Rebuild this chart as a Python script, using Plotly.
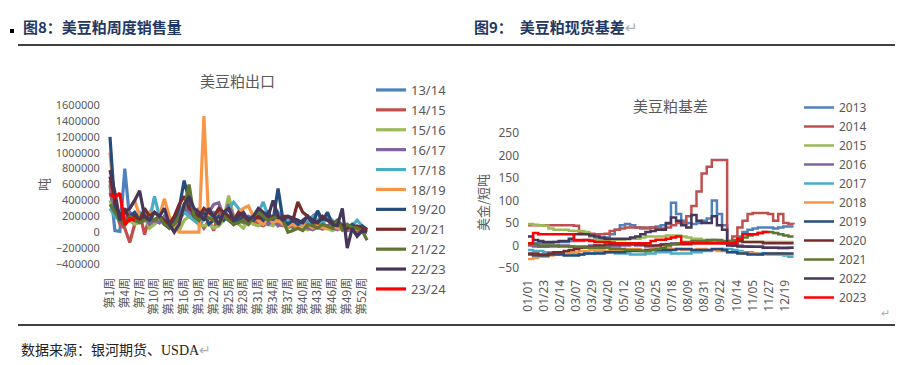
import plotly.graph_objects as go

W, H = 916, 365
OFF = 8  # default page body margin of the written HTML

# ---------------- Left chart data: weekly export sales (tonnes) ----------------
weeks = list(range(1, 54))
week_ticks = list(range(1, 53, 3))
week_labels = [f"第{w}周" for w in week_ticks]

seasons = ["13/14", "14/15", "15/16", "16/17", "17/18", "18/19",
           "19/20", "20/21", "21/22", "22/23", "23/24"]

s1314 = [600000, 20000, 10000, 800000, 150000, 100000, 200000, 150000, 180000, 120000,
         200000, 150000, 100000, 80000, 200000, 350000, 300000, 200000, 150000, 250000,
         200000, 180000, 250000, 220000, 200000, 180000, 150000, 200000, 180000, 160000,
         200000, 150000, 120000, 180000, 250000, 150000, 100000, 120000, 150000, 100000,
         130000, 200000, 250000, 100000, 80000, 120000, 100000, 60000, 50000, 80000,
         30000, 50000, 20000]
s1415 = [650000, 300000, 100000, 50000, -130000, 100000, 250000, -30000, 200000, 150000,
         120000, 200000, 150000, 100000, 150000, 250000, 300000, 200000, 150000, 50000,
         150000, 20000, 250000, 200000, 150000, 100000, 180000, 120000, 100000, 150000,
         100000, 80000, 120000, 150000, 100000, 80000, 120000, 60000, 80000, 100000,
         50000, 80000, 120000, 60000, 80000, 50000, 100000, 30000, 20000, 40000,
         0, 30000, 10000]
s1516 = [400000, 200000, 150000, 250000, 150000, 100000, 120000, 200000, 50000, 100000,
         150000, 100000, 80000, 60000, 20000, 150000, 200000, 150000, 100000, 80000,
         100000, 50000, 80000, 150000, 460000, 200000, 100000, 50000, 150000, 100000,
         80000, 120000, 100000, 80000, 150000, 100000, 50000, 80000, 100000, 50000,
         30000, 80000, 60000, 40000, 50000, 20000, 50000, 30000, 60000, 20000,
         40000, 30000, 10000]
s1617 = [500000, 300000, 200000, 150000, 250000, 200000, 150000, 180000, 100000, 150000,
         120000, 200000, 150000, 100000, 200000, 300000, 250000, 200000, 300000, 150000,
         250000, 350000, 370000, 200000, 350000, 200000, 150000, 120000, 200000, 180000,
         150000, 200000, 100000, 150000, 80000, 120000, 100000, 60000, 80000, 100000,
         50000, 30000, 60000, 40000, 80000, 50000, 30000, 60000, 20000, 40000,
         -50000, 20000, 0]
s1718 = [300000, 200000, 150000, 100000, 200000, 150000, 250000, 200000, 150000, 450000,
         200000, 150000, 100000, 150000, 200000, 250000, 200000, 150000, 100000, 150000,
         200000, 250000, 200000, 150000, 300000, 380000, 300000, 200000, 150000, 200000,
         250000, 380000, 200000, 150000, 200000, 180000, 150000, 120000, 150000, 100000,
         130000, 200000, 150000, 100000, 200000, 150000, 50000, 100000, 50000, 80000,
         150000, 80000, 30000]
s1819 = [1000000, 300000, 200000, 250000, 300000, 400000, 200000, 150000, 250000, 150000,
         200000, 420000, 200000, 100000, 0, 0, 0, 0, 0, 1460000,
         100000, 200000, 150000, 180000, 200000, 150000, 250000, 300000, 330000, 200000,
         150000, 100000, 180000, 120000, 150000, 100000, 80000, 100000, 50000, 80000,
         100000, 50000, 80000, 60000, 40000, 80000, 50000, 30000, 60000, 20000,
         50000, 20000, 10000]
s1920 = [1200000, 300000, 150000, 100000, 200000, 250000, 150000, 200000, 180000, 150000,
         200000, 100000, 50000, 150000, 300000, 650000, 400000, 200000, 150000, 250000,
         100000, 150000, 200000, 150000, 200000, 100000, 150000, 200000, 180000, 150000,
         200000, 150000, 250000, 150000, 550000, 150000, 100000, 150000, 100000, 150000,
         200000, 100000, 270000, 150000, 250000, 100000, 150000, 80000, 50000, 100000,
         50000, 80000, 30000]
s2021 = [700000, 400000, 200000, 300000, 150000, 200000, 150000, 300000, 200000, 250000,
         200000, 150000, 100000, 200000, 350000, 450000, 300000, 250000, 200000, 300000,
         250000, 200000, 300000, 250000, 200000, 150000, 250000, 200000, 150000, 200000,
         180000, 200000, 150000, 200000, 180000, 200000, 200000, 150000, 380000, 250000,
         200000, 150000, 120000, 200000, 150000, 130000, 100000, 80000, 50000, 60000,
         80000, 50000, 40000]
s2122 = [350000, 250000, 150000, 100000, 200000, 150000, 120000, 150000, 180000, 150000,
         200000, 100000, 50000, 100000, 200000, 300000, 600000, 200000, 150000, 200000,
         180000, 150000, 100000, 200000, 150000, 100000, 120000, 150000, 100000, 200000,
         250000, 200000, 150000, 180000, 200000, 150000, 0, 20000, 50000, 20000,
         100000, 80000, 50000, 100000, 80000, 50000, 150000, 30000, 100000, 60000,
         50000, 20000, -100000]
s2223 = [780000, 500000, 150000, 250000, 300000, 400000, 520000, 200000, 150000, 250000,
         200000, 300000, 100000, 0, 100000, 350000, 450000, 300000, 250000, 150000,
         300000, 200000, 100000, 250000, 300000, 150000, 200000, 250000, 150000, 200000,
         300000, 250000, 200000, 400000, 200000, 150000, 200000, 180000, 150000, 120000,
         200000, 150000, 120000, 180000, 150000, 100000, 80000, 300000, -200000, 50000,
         -50000, 20000, 0]
s2324 = [480000, 440000, 490000, 90000, 170000, 150000]

season_values = [s1314, s1415, s1516, s1617, s1718, s1819, s1920, s2021, s2122, s2223, s2324]

# ---------------- Right chart data: spot basis (USD / short ton) ----------------
day_of_year = list(range(0, 365, 7))          # weekly sampling points
date_tick_days = list(range(0, 353, 22))
date_tick_labels = ["01/01", "01/23", "02/14", "03/07", "03/29", "04/20", "05/12", "06/03",
                    "06/25", "07/18", "08/09", "08/31", "09/22", "10/14", "11/05", "11/27", "12/19"]

years = ["2013", "2014", "2015", "2016", "2017", "2018", "2019", "2020", "2021", "2022", "2023"]

b2013 = [5, 5, 5, 5, 5, 8, 8, 8, 10, 10, 10, 12, 12, 15, 15, 18, 25, 35, 45, 48,
         45, 40, 38, 38, 40, 42, 45, 48, 95, 70, 55, 50, 48, 50, 55, 60, 100, 70, 45, 5,
         0, 20, 30, 35, 38, 40, 40, 40, 38, 40, 42, 42, 42]
b2014 = [45, 45, 45, 45, 45, 45, 45, 45, 45, 44, 28, 28, 26, 25, 25, 26, 32, 35, 38, 40,
         40, 40, 40, 40, 40, 38, 38, 40, 45, 50, 50, 65, 88, 120, 160, 175, 190, 190, 190, 10,
         20, 40, 55, 70, 72, 72, 72, 70, 55, 70, 50, 48, 47]
b2015 = [48, 46, 45, 44, 38, 35, 35, 35, 33, 32, 32, 30, 20, 12, 10, 10, 10, 12, 12, 14,
         15, 15, 18, 20, 20, 20, 20, 22, 22, 22, 20, 18, 15, 15, 12, 10, 10, 10, 8, 8,
         10, 10, 8, 8, 8, 8, 8, 8, 8, 8, 8, 8, 8]
b2016 = [0, -2, -3, -3, -2, -2, 0, 0, -2, -3, -3, -2, 0, 0, -2, -3, -2, -2, 0, 0,
         2, 0, 0, -2, -2, 0, 2, 3, 5, 5, 5, 6, 6, 8, 8, 10, 12, 10, 5, 3,
         0, 0, -2, -2, -3, -3, -5, -5, -5, -6, -6, -5, -5]
b2017 = [-10, -12, -12, -15, -15, -18, -18, -18, -18, -20, -20, -18, -18, -15, -15, -15, -15, -18, -18, -18,
         -20, -20, -20, -18, -18, -15, -15, -15, -18, -18, -18, -18, -15, -15, -12, -12, -10, -10, -8, -8,
         -10, -12, -15, -15, -18, -18, -18, -20, -20, -20, -22, -25, -25]
b2018 = [-30, -28, -25, -25, -22, -20, -18, -18, -15, -15, -12, -12, -10, -10, -10, -12, -12, -10, -10, -8,
         -8, -8, -10, -10, -8, -5, -5, -5, -8, -8, -10, -10, -10, -8, -8, -10, -10, -12, -12, -15,
         -15, -15, -18, -18, -18, -20, -20, -18, -18, -18, -20, -20, -20]
b2019 = [-20, -22, -22, -22, -20, -20, -20, -22, -22, -22, -20, -18, -18, -18, -18, -15, -15, -15, -15, -12,
         -12, -12, -12, -10, -10, -10, -10, -10, -10, -8, -8, -8, -10, -10, -10, -10, -8, -8, -10, -15,
         -15, -18, -18, -20, -20, -20, -18, -18, -18, -18, -18, -18, -18]
b2020 = [-18, -18, -20, -20, -18, -15, -15, -12, -10, -8, -5, -5, -3, 0, 0, 2, 2, 2, 3, 3,
         3, 2, 2, 0, 0, 0, 2, 3, 3, 3, 3, 3, 5, 5, 5, 5, 5, 5, 5, 8,
         10, 10, 8, 8, 8, 8, 5, 5, 5, 5, 5, 5, 5]
b2021 = [2, 2, 0, 0, 0, 0, -2, -2, -2, -3, -3, -5, -5, -5, -5, -5, -8, -8, -8, -10,
         -10, -10, -12, -12, -10, -8, -5, 0, 3, 5, 8, 8, 10, 10, 10, 12, 12, 12, 10, 10,
         12, 15, 18, 22, 25, 28, 30, 30, 28, 25, 22, 20, 20]
b2022 = [20, 12, 10, 8, 8, 8, 10, 10, 15, 25, 25, 25, 22, 20, 18, 15, 15, 15, 15, 15,
         18, 20, 25, 30, 32, 35, 35, 50, 62, 55, 45, 40, 68, 55, 50, 50, 65, 45, 35, 0,
         0, -2, -2, -3, -3, -3, -5, -5, -5, -5, -5, -5, -5]
b2023 = [5, 28, 25, 25, 25, 25, 25, 25, 25, 12, 12, 12, 10, 8, 8, 8, 6, 5, 5, 5,
         5, 5, 5, 5, 10, 13, 13, 15, 18, 20, 5, 5, 5, 5, 5, 5, 5, 5, 5, 5,
         5, 15, 25, 25, 25, 28, 30, 32]

basis_values = [b2013, b2014, b2015, b2016, b2017, b2018, b2019, b2020, b2021, b2022, b2023]

colors = ["#4F81BD", "#C0504D", "#9BBB59", "#8064A2", "#4BACC6", "#F79646",
          "#254C7A", "#772C2A", "#5F7530", "#463659", "#FF0000"]

GRAY = "#595959"
FONT = "Noto Sans CJK SC, Noto Sans, sans-serif"
NUMFONT = "Noto Sans, sans-serif"


def px(x):
    return (x - OFF) / W


def py(y):
    return 1 - (y - OFF) / H


fig = go.Figure()

for name, vals, c in zip(seasons, season_values, colors):
    fig.add_trace(go.Scatter(
        x=weeks[:len(vals)], y=vals, name=name, mode="lines",
        line=dict(color=c, width=3.2), xaxis="x", yaxis="y", legend="legend",
        hoverinfo="skip"))

for name, vals, c in zip(years, basis_values, colors):
    fig.add_trace(go.Scatter(
        x=day_of_year[:len(vals)], y=vals, name=name, mode="lines",
        line=dict(color=c, width=2.5, shape="hv"), xaxis="x2", yaxis="y2", legend="legend2",
        hoverinfo="skip"))

axis_common = dict(showgrid=False, zeroline=False, showline=False, automargin=False)

fig.update_layout(
    width=W, height=H,
    margin=dict(l=0, r=0, t=0, b=0, autoexpand=False),
    paper_bgcolor="white", plot_bgcolor="white",
    font=dict(family=FONT, color=GRAY),
    xaxis=dict(domain=[px(108), px(370)], range=[0.6, 53.6], anchor="y",
               tickmode="array", tickvals=week_ticks, ticktext=week_labels, tickangle=-90,
               tickfont=dict(size=12, color=GRAY, family=FONT),
               ticks="outside", ticklen=8, tickcolor="rgba(0,0,0,0)", **axis_common),
    yaxis=dict(domain=[py(264), py(105)], range=[-400000, 1600000], anchor="x",
               dtick=200000, tickformat="d",
               tickfont=dict(size=11, color=GRAY, family=NUMFONT),
               ticks="outside", ticklen=5, tickcolor="rgba(0,0,0,0)", **axis_common),
    xaxis2=dict(domain=[px(526.5), px(795)], range=[-2, 366], anchor="y2",
                tickmode="array", tickvals=date_tick_days, ticktext=date_tick_labels, tickangle=-90,
                tickfont=dict(size=12, color=GRAY, family=NUMFONT),
                ticks="outside", ticklen=6, tickcolor="rgba(0,0,0,0)", **axis_common),
    yaxis2=dict(domain=[py(268), py(133)], range=[-50, 250], anchor="x2", dtick=50,
                tickfont=dict(size=12, color=GRAY, family=NUMFONT),
                ticks="outside", ticklen=4, tickcolor="rgba(0,0,0,0)", **axis_common),
    legend=dict(x=px(371), y=py(75), xanchor="left", yanchor="top",
                font=dict(size=13, color=GRAY, family=NUMFONT), bgcolor="rgba(0,0,0,0)",
                itemwidth=30, tracegroupgap=0),
    legend2=dict(x=px(799), y=py(93), xanchor="left", yanchor="top",
                 font=dict(size=12, color=GRAY, family=NUMFONT), bgcolor="rgba(0,0,0,0)",
                 itemwidth=30, tracegroupgap=0),
    showlegend=True,
)

annotations = [
    # chart titles
    dict(text="美豆粕出口", x=px(237), y=py(81), font=dict(size=15, color=GRAY)),
    dict(text="美豆粕基差", x=px(670), y=py(105), font=dict(size=15, color=GRAY)),
    # axis titles
    dict(text="吨", x=px(43), y=py(185), textangle=-90, font=dict(size=13, color=GRAY)),
    dict(text="美金/短吨", x=px(482), y=py(203), textangle=-90, font=dict(size=13, color=GRAY)),
    # headers
    dict(text="<b>图8：美豆粕周度销售量</b>", x=px(21), y=py(26), xanchor="left",
         font=dict(size=15, color="#1F3864")),
    dict(text="<b>图9：\u00a0\u00a0美豆粕现货基差</b><span style='color:#B0B0B0'>↵</span>",
         x=px(472), y=py(26), xanchor="left", font=dict(size=15, color="#1F3864")),
    # footer
    dict(text="数据来源：银河期货、USDA<span style='color:#B0B0B0'>↵</span>", x=px(19), y=py(350),
         xanchor="left", font=dict(size=14, color="#222222", family="Liberation Serif, Noto Sans CJK SC")),
    dict(text="↵", x=px(885), y=py(312), font=dict(size=11, color="#B0B0B0")),
]
for a in annotations:
    a.update(xref="paper", yref="paper", showarrow=False)
    if "xanchor" not in a:
        a["xanchor"] = "center"
    a["yanchor"] = "middle"
fig.update_layout(annotations=annotations)

fig.update_layout(shapes=[
    dict(type="line", xref="paper", yref="paper", x0=px(18), x1=px(895), y0=py(45), y1=py(45),
         line=dict(color="black", width=1.5)),
    dict(type="line", xref="paper", yref="paper", x0=px(18), x1=px(895), y0=py(325), y1=py(325),
         line=dict(color="black", width=1.5)),
    dict(type="rect", xref="paper", yref="paper", x0=px(10), x1=px(14), y0=py(33), y1=py(29),
         fillcolor="black", line=dict(width=0)),
])

fig.write_html("out.html")
